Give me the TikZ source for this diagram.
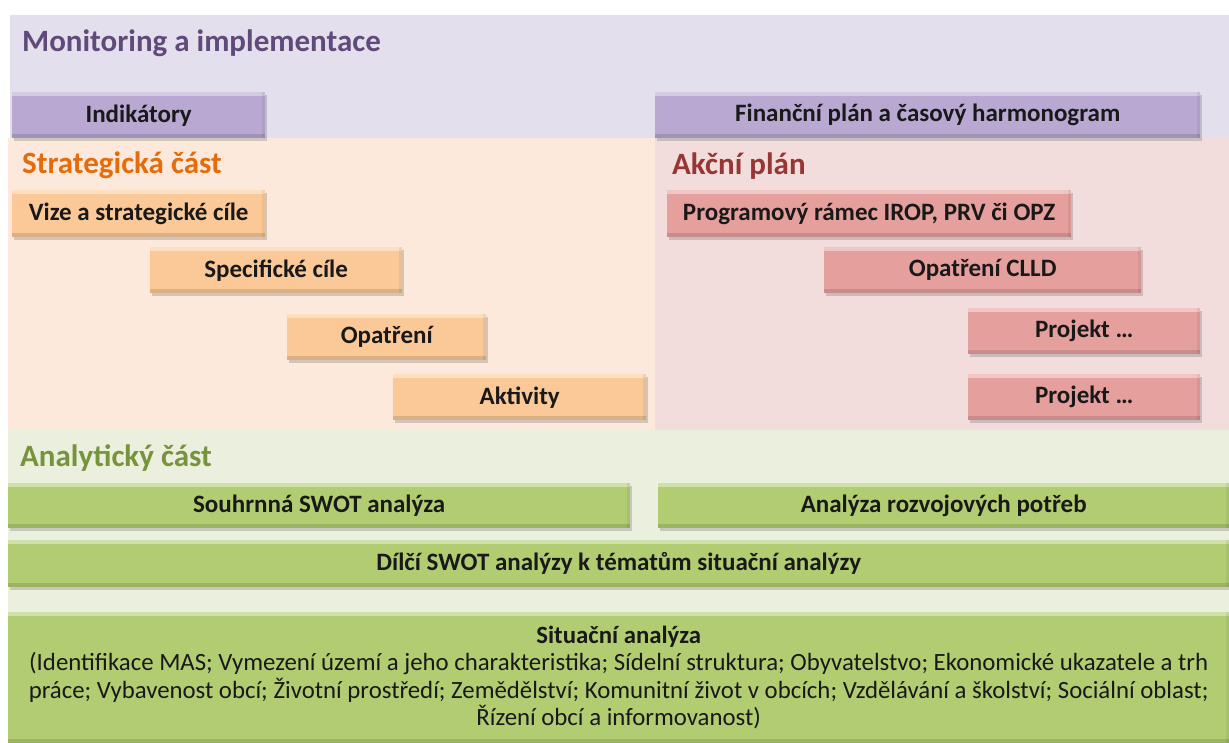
\documentclass[tikz,border=0pt]{standalone}
\usepackage{fontspec}
\setmainfont{Carlito}
\usetikzlibrary{shadows}
\definecolor{bgP}{RGB}{228,223,236}
\definecolor{bgO}{RGB}{253,233,219}
\definecolor{bgR}{RGB}{242,220,220}
\definecolor{bgG}{RGB}{235,240,222}
\definecolor{boxP}{RGB}{184,168,210}
\definecolor{boxO}{RGB}{251,201,152}
\definecolor{boxR}{RGB}{229,160,158}
\definecolor{boxG}{RGB}{178,204,114}
\definecolor{tP}{RGB}{96,74,123}
\definecolor{tO}{RGB}{228,108,10}
\definecolor{tR}{RGB}{150,55,53}
\definecolor{tG}{RGB}{119,147,60}
\tikzset{
  bevbox/.style={rectangle, inner sep=0pt, anchor=north west, fill=#1,
    font=\fontsize{25}{29}\selectfont\bfseries, text=black!90,
    drop shadow={shadow xshift=1.5pt, shadow yshift=-2.5pt, opacity=.35},
    path picture={
      \fill[white,opacity=.4] (path picture bounding box.north west) rectangle ([yshift=-4pt]path picture bounding box.north east);
      \fill[black,opacity=.12] ([yshift=4pt]path picture bounding box.south west) rectangle (path picture bounding box.south east);
      \fill[black,opacity=.06] ([xshift=-3pt]path picture bounding box.north east) rectangle (path picture bounding box.south east);
    }},
  band/.style={fill=#1, draw=none},
  ttl/.style={anchor=west, inner sep=0pt, font=\fontsize{31}{36}\selectfont\bfseries, text=#1}
}
\begin{document}
\begin{tikzpicture}[x=1pt,y=-1pt]
\useasboundingbox[fill=white] (0,0) rectangle (1229,743);
% bands
\fill[band=bgP] (10,15) rectangle (1229,138);
\fill[band=bgO] (8,138) rectangle (655,430);
\fill[band=bgR] (655,138) rectangle (1229,430);
\fill[band=bgG] (8,430) rectangle (1229,743);
% titles
\node[ttl=tP] (tmon) at (22,43) {Monitoring a implementace};
\node[ttl=tO] (tstr) at (22,165) {Strategická část};
\node[ttl=tR] (takc) at (672,166) {Akční plán};
\node[ttl=tG] (tana) at (20,458) {Analytický část};
% monitoring
\node[bevbox=boxP, minimum width=253pt, minimum height=46pt] (ind) at (12,92) {Indikátory};
\node[bevbox=boxP, minimum width=545pt, minimum height=46pt] (fin) at (655,92) {Finanční plán a časový harmonogram};
% strategicka
\node[bevbox=boxO, minimum width=253pt, minimum height=47pt] (vize) at (12,190) {Vize a strategické cíle};
\node[bevbox=boxO, minimum width=252pt, minimum height=46pt] (spec) at (150,247) {Specifické cíle};
\node[bevbox=boxO, minimum width=199pt, minimum height=46pt] (opat) at (287,314) {Opatření};
\node[bevbox=boxO, minimum width=253pt, minimum height=46pt] (akt) at (393,374) {Aktivity};
% akcni plan
\node[bevbox=boxR, minimum width=404pt, minimum height=47pt] (prog) at (667,190) {Programový rámec IROP, PRV či OPZ};
\node[bevbox=boxR, minimum width=317pt, minimum height=46pt] (clld) at (824,247) {Opatření CLLD};
\node[bevbox=boxR, minimum width=232pt, minimum height=46pt] (pr1) at (968,308) {Projekt …};
\node[bevbox=boxR, minimum width=232pt, minimum height=46pt] (pr2) at (968,374) {Projekt …};
% analyticka
\node[bevbox=boxG, minimum width=622pt, minimum height=45pt] (souh) at (8,483) {Souhrnná SWOT analýza};
\node[bevbox=boxG, minimum width=571pt, minimum height=45pt] (rozv) at (658,483) {Analýza rozvojových potřeb};
\node[bevbox=boxG, minimum width=1221pt, minimum height=47pt] (dilci) at (8,540) {Dílčí SWOT analýzy k tématům situační analýzy};
\node[bevbox=boxG, minimum width=1221pt, minimum height=131pt, align=center,
  font=\fontsize{24.8}{27.5}\selectfont] (sit) at (8,612)
  {\textbf{Situační analýza}\\
   (Identifikace MAS; Vymezení území a jeho charakteristika; Sídelní struktura; Obyvatelstvo; Ekonomické ukazatele a trh\\
   práce; Vybavenost obcí; Životní prostředí; Zemědělství; Komunitní život v obcích; Vzdělávání a školství; Sociální oblast;\\
   Řízení obcí a informovanost)};
\end{tikzpicture}
\end{document}
